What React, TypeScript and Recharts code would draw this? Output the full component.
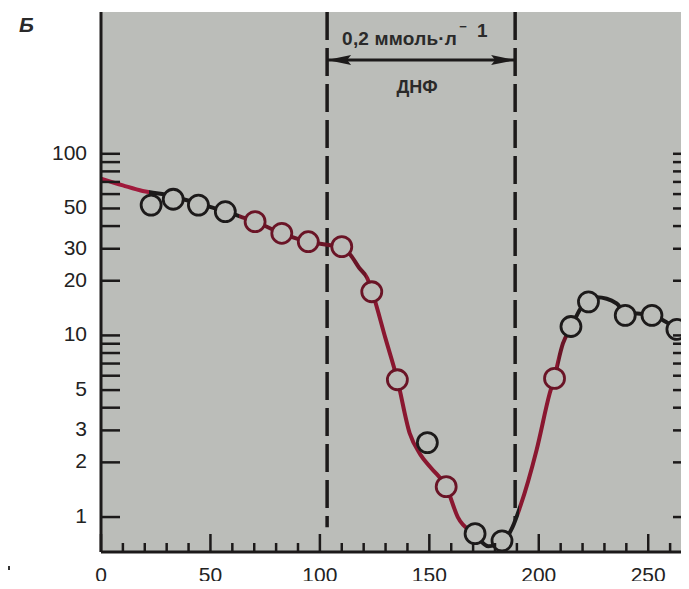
import { ComposedChart, Line, Scatter, XAxis, YAxis, CartesianGrid, ReferenceLine } from 'recharts';

// measured points (open circles)
const sampleX = [22.9, 33.0, 44.5, 56.8, 70.4, 82.6, 94.7, 110.0, 123.7, 135.4, 149.1, 157.7, 170.9, 183.2, 207.2, 214.7, 222.7, 239.5, 251.7, 263.1];
const sampleY = [52.2, 56.2, 52.2, 48.0, 42.3, 36.5, 32.8, 30.8, 17.4, 5.7, 2.57, 1.47, 0.81, 0.74, 5.8, 11.2, 15.3, 12.9, 12.9, 10.8];

// hand-drawn fitted curve
const fitX = [0, 10, 19, 28, 38, 51, 57, 64, 70.4, 82.6, 94.7, 104, 110, 114, 118, 121.6, 124, 130, 135.4, 141, 146, 151, 157.7, 163, 170.9, 177, 183, 188, 191.5, 199, 205, 207, 211, 215, 219, 222.6, 226.5, 235.6, 239.5, 245, 252, 258, 263, 270];
const fitY = [73, 67, 62.4, 60, 56, 50.5, 48, 45, 42.3, 36.5, 32.8, 31.5, 30.5, 27.7, 23.5, 20.7, 17.2, 9.6, 5.7, 2.9, 2.2, 1.85, 1.47, 1.0, 0.8, 0.69, 0.72, 0.88, 1.14, 2.34, 4.8, 5.8, 9, 11.2, 14, 15.4, 16.2, 15, 13.3, 13.2, 12.9, 11.9, 10.9, 10];

const xTicks = [0, 10, 20, 30, 40, 50, 60, 70, 80, 90, 100, 110, 120, 130, 140, 150, 160, 170, 180, 190, 200, 210, 220, 230, 240, 250, 260, 270];
const xLabels = [0, 50, 100, 150, 200, 250];
const yTicks = [1, 2, 3, 4, 5, 6, 7, 8, 9, 10, 20, 30, 40, 50, 60, 70, 80, 90, 100];
const yLabels = [1, 2, 3, 5, 10, 20, 30, 50, 100];

// DNP added between these two times
const dnpStart = 103.3;
const dnpEnd = 189.2;

const X_MAX = 270;
const Y_DOMAIN: [number, number] = [0.642, 603.5];

const INK = '#1c1a1a';
const RED = '#a01a3c';
const CRIMSON = '#8a1730';
const DARK_RED = '#6a1426';
const BG = '#bbbdb9';
const FONT = '"Liberation Sans", Arial, sans-serif';

// colour of the drawn curve along x (the print mixes red and black)
const curveTone: [number, number, string][] = [
  [0, 22, RED],
  [22, 63, INK],
  [63, 121, DARK_RED],
  [121, 172, CRIMSON],
  [172, 191, INK],
  [191, 209, CRIMSON],
  [209, 216, DARK_RED],
  [216, 270, INK],
];

const markerTone = (x: number) => {
  if (x < 60) return INK;
  if (x < 140) return DARK_RED;
  if (x < 152) return INK;
  if (x < 165) return DARK_RED;
  if (x < 200) return INK;
  if (x < 210) return DARK_RED;
  return INK;
};

const points = sampleX.map((x, i) => ({ x, y: sampleY[i] }));
const curve = fitX.map((x, i) => ({ x, y: fitY[i] }));

function XTick(props: any) {
  const { x, y, payload } = props;
  const v = payload.value;
  const major = v % 50 === 0;
  return (
    <g>
      <line x1={x} x2={x} y1={y} y2={y - (major ? 18 : 9)} stroke={INK} strokeWidth={2.5} />
      {xLabels.includes(v) && (
        <text x={x} y={y + 30} textAnchor="middle" fontSize={21} fontFamily={FONT} fill="#222">
          {v}
        </text>
      )}
    </g>
  );
}

function LeftTick(props: any) {
  const { x, y, payload } = props;
  const v = payload.value;
  return (
    <g>
      <line x1={x} x2={x + 19} y1={y} y2={y} stroke={INK} strokeWidth={2.5} />
      {yLabels.includes(v) && (
        <text x={x - 14} y={y + 6} textAnchor="end" fontSize={21} fontFamily={FONT} fill="#222">
          {v}
        </text>
      )}
    </g>
  );
}

function RightTick(props: any) {
  const { x, y } = props;
  return <line x1={x} x2={x - 19} y1={y} y2={y} stroke={INK} strokeWidth={2.5} />;
}

function Ring(props: any) {
  const { cx, cy, payload } = props;
  return <circle cx={cx} cy={cy} r={10} fill={BG} stroke={markerTone(payload.x)} strokeWidth={2.8} />;
}

function DoseArrow(props: any) {
  const { x1, x2, y1 } = props;
  const mid = (x1 + x2) / 2;
  return (
    <g>
      <line x1={x1} x2={x2} y1={y1} y2={y1} stroke={INK} strokeWidth={3} />
      <polygon points={`${x1},${y1} ${x1 + 24},${y1 - 5} ${x1 + 20},${y1} ${x1 + 24},${y1 + 5}`} fill={INK} />
      <polygon points={`${x2},${y1} ${x2 - 24},${y1 - 5} ${x2 - 20},${y1} ${x2 - 24},${y1 + 5}`} fill={INK} />
      <text x={x1 + 15} y={y1 - 15} textAnchor="start" fontSize={19} fontWeight="bold" letterSpacing={0.2} fontFamily={FONT} fill="#2a2a2a">
        0,2 ммоль·л
        <tspan dx={2} dy={-14} fontSize={13}>−</tspan>
        <tspan dx={10} dy={6} fontSize={19}>1</tspan>
      </text>
      <text x={mid - 4} y={y1 + 33} textAnchor="middle" fontSize={18} fontWeight="bold" fontFamily={FONT} fill="#2a2a2a">
        ДНФ
      </text>
    </g>
  );
}

export default function App() {
  return (
    <div style={{ margin: -8, position: 'relative', width: 689, height: 589, overflow: 'hidden', background: '#fff' }}>
      <div
        style={{
          position: 'absolute',
          left: 19,
          top: 14,
          fontFamily: FONT,
          fontSize: 21,
          lineHeight: '21px',
          fontStyle: 'italic',
          fontWeight: 'bold',
          color: '#2a2a2a',
        }}
      >
        Б
      </div>
      {/* torn edge of the neighbouring panel's letter */}
      <div
        style={{
          position: 'absolute',
          left: -6,
          top: 565,
          width: 13,
          height: 22,
          borderRadius: '50%',
          background: '#b01040',
          zIndex: 2,
        }}
      />
      <div style={{ position: 'absolute', left: 8, top: 566, width: 2, height: 4, background: '#333', zIndex: 2 }} />
      <ComposedChart width={760} height={589} margin={{ top: 12, right: 0, bottom: 0, left: 0 }}>
        <CartesianGrid fill={BG} fillOpacity={1} horizontal={false} vertical={false} stroke="none" />
        <defs>
          <linearGradient id="curveTone" x1="0" y1="0" x2="1" y2="0">
            {curveTone.flatMap(([a, b, c], i) => [
              <stop key={`a${i}`} offset={a / X_MAX} stopColor={c} />,
              <stop key={`b${i}`} offset={b / X_MAX} stopColor={c} />,
            ])}
          </linearGradient>
        </defs>
        <XAxis
          dataKey="x"
          type="number"
          domain={[0, X_MAX]}
          ticks={xTicks}
          interval={0}
          allowDataOverflow
          height={37}
          tickSize={0}
          tickMargin={0}
          tickLine={false}
          tick={XTick}
          axisLine={{ stroke: INK, strokeWidth: 3 }}
        />
        <YAxis
          type="number"
          scale="log"
          domain={Y_DOMAIN}
          ticks={yTicks}
          interval={0}
          allowDataOverflow
          width={101}
          tickSize={0}
          tickMargin={0}
          tickLine={false}
          tick={LeftTick}
          axisLine={{ stroke: INK, strokeWidth: 3 }}
        />
        <YAxis
          yAxisId="r"
          orientation="right"
          type="number"
          scale="log"
          domain={Y_DOMAIN}
          ticks={yTicks}
          interval={0}
          allowDataOverflow
          width={68}
          tickSize={0}
          tickMargin={0}
          tickLine={false}
          tick={RightTick}
          axisLine={{ stroke: INK, strokeWidth: 3 }}
        />
        <ReferenceLine
          segment={[{ x: dnpStart, y: Y_DOMAIN[1] }, { x: dnpStart, y: 0.88 }]}
          stroke={INK}
          strokeWidth={3.5}
          strokeDasharray="28 8"
        />
        <ReferenceLine
          segment={[{ x: dnpEnd, y: Y_DOMAIN[1] }, { x: dnpEnd, y: 0.95 }]}
          stroke={INK}
          strokeWidth={3.5}
          strokeDasharray="28 8"
        />
        <ReferenceLine
          segment={[{ x: dnpStart, y: 328 }, { x: dnpEnd, y: 328 }]}
          shape={DoseArrow}
        />
        <Line
          data={curve}
          dataKey="y"
          type="monotone"
          stroke="url(#curveTone)"
          strokeWidth={4}
          dot={false}
          activeDot={false}
          isAnimationActive={false}
        />
        <Scatter data={points} dataKey="y" shape={Ring} isAnimationActive={false} />
      </ComposedChart>
    </div>
  );
}
